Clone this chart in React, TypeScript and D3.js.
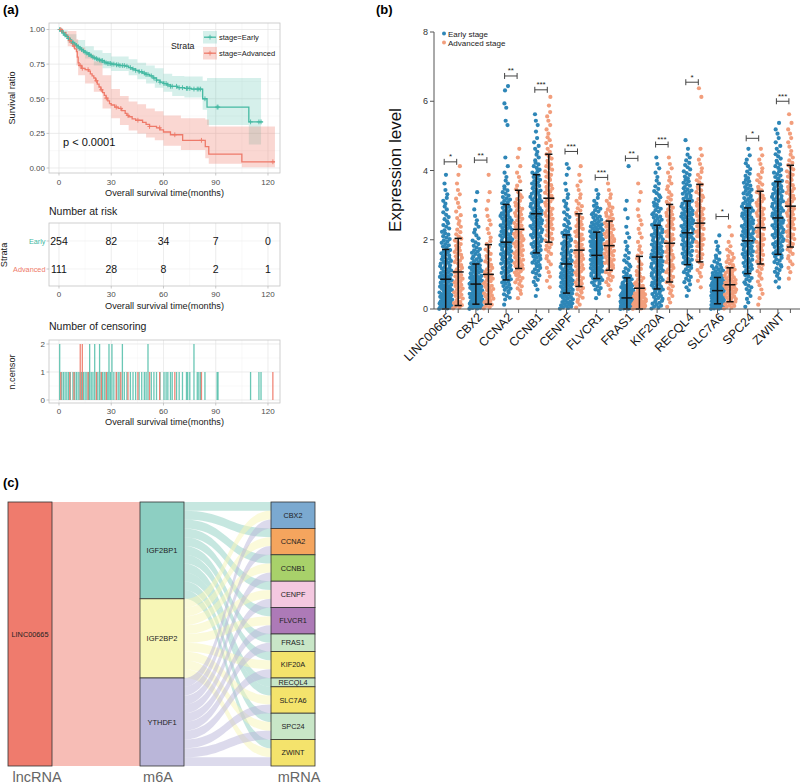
import React from 'react';
import * as d3 from 'd3';

const FONT = '"Liberation Sans", Arial, Helvetica, sans-serif';
const TEAL = '#45B9A3';
const SALMON = '#EE7A6A';

// ---------- (a) Kaplan-Meier data ----------
const earlySteps: [number, number][] = [
  [0, 1], [1, 0.99], [2, 0.975], [3, 0.96], [4, 0.95], [5, 0.935], [6, 0.925], [7, 0.915], [8, 0.905], [9, 0.895],
  [10, 0.885], [11, 0.875], [12, 0.865], [13, 0.855], [14, 0.845], [15, 0.835], [16, 0.83], [17, 0.82], [18, 0.81],
  [19, 0.8], [20, 0.795], [21, 0.79], [22, 0.785], [23, 0.78], [24, 0.775], [26, 0.765], [27, 0.76], [28, 0.755],
  [30, 0.75], [33, 0.745], [35, 0.74], [38, 0.735], [40, 0.725], [42, 0.715], [44, 0.705], [46, 0.695], [48, 0.685],
  [50, 0.675], [52, 0.665], [54, 0.65], [56, 0.635], [58, 0.62], [60, 0.61], [62, 0.6], [64, 0.59], [68, 0.58],
  [72, 0.575], [76, 0.57], [82.5, 0.5], [85, 0.44], [109, 0.333],
];
const earlyEnd = 117;
const advSteps: [number, number][] = [
  [0, 1], [2, 0.98], [4, 0.96], [5, 0.94], [6, 0.92], [7, 0.9], [8, 0.88], [9, 0.86], [10, 0.84], [10.5, 0.8],
  [11, 0.76], [11.5, 0.74], [13, 0.72], [15, 0.71], [17, 0.7], [18, 0.68], [19, 0.665], [20, 0.65], [21, 0.63],
  [22, 0.605], [23, 0.585], [24, 0.565], [25, 0.545], [26, 0.525], [27, 0.505], [28, 0.485], [29, 0.465], [30, 0.455],
  [32, 0.44], [34, 0.43], [36, 0.415], [38, 0.395], [39, 0.38], [40, 0.37], [42, 0.355], [44, 0.345], [48, 0.33],
  [50, 0.315], [52, 0.3], [56, 0.29], [58, 0.275], [60, 0.26], [64, 0.24], [71, 0.2], [84, 0.155], [86, 0.1], [105, 0.045],
];
const advEnd = 124;
const earlyCI: [number, number, number][] = [
  [0, 1, 1], [2, 0.955, 0.995], [5, 0.905, 0.965], [10, 0.845, 0.925], [15, 0.79, 0.88], [20, 0.74, 0.85],
  [25, 0.72, 0.83], [30, 0.7, 0.805], [40, 0.67, 0.785], [45, 0.64, 0.76], [50, 0.61, 0.74], [55, 0.58, 0.72],
  [60, 0.55, 0.68], [65, 0.52, 0.665], [72, 0.51, 0.66], [82.5, 0.42, 0.63], [85, 0.31, 0.65], [109, 0.17, 0.65],
];
const earlyCIEnd = 116;
const advCI: [number, number, number][] = [
  [0, 1, 1], [5, 0.88, 0.99], [10, 0.74, 0.93], [11, 0.67, 0.87], [15, 0.61, 0.82], [20, 0.55, 0.77],
  [25, 0.43, 0.67], [30, 0.36, 0.57], [35, 0.31, 0.52], [40, 0.27, 0.48], [45, 0.25, 0.46], [50, 0.22, 0.43],
  [55, 0.2, 0.41], [60, 0.16, 0.38], [70, 0.13, 0.36], [84, 0.07, 0.35], [86, 0.03, 0.3], [105, 0.005, 0.3],
];
const advCIEnd = 124;

const riskTimes = [0, 30, 60, 90, 120];
const riskEarly = [254, 82, 34, 7, 0];
const riskAdv = [111, 28, 8, 2, 1];
const xTicksA = [0, 30, 60, 90, 120];
const yTicksA = [0, 0.25, 0.5, 0.75, 1];
const yTickLabelsA = ['0.00', '0.25', '0.50', '0.75', '1.00'];

const censorEarly: [number, number][] = [
  [0.4, 2], [1.5, 1], [2.5, 1], [3.5, 1], [4.5, 1], [5.5, 1], [6.5, 1], [8, 1], [9, 1], [10, 1], [11, 1], [12, 1],
  [13, 1], [14, 1], [15, 1], [16, 1], [17, 1], [17.6, 2], [18.5, 1], [19.5, 1], [20.5, 2], [21.5, 1], [22.3, 1],
  [23.3, 2], [24.2, 1], [25, 1], [26, 1], [27, 1], [28, 1], [28.7, 2], [29.5, 1], [30.4, 2], [31.5, 1], [33, 1],
  [34, 1], [35, 1], [36.4, 2], [37.5, 1], [39, 1], [41, 1], [42.5, 1], [44, 1], [46, 1], [47.5, 1], [49, 1], [50, 1],
  [51.1, 2], [53, 1], [54.5, 1], [56, 1], [58, 1], [60.3, 1], [61.5, 1], [62.5, 1], [64, 1], [65, 1], [67.5, 1],
  [69, 1], [70.9, 1], [73.2, 1], [73.9, 1], [75.1, 1], [77.5, 2], [79.4, 1], [80.3, 1], [81.3, 1], [83.8, 1],
  [90.8, 1], [91.3, 1], [110, 1], [114.8, 1], [116, 1],
];
const censorAdv: [number, number][] = [
  [1, 1], [6.2, 1], [8.6, 1], [12.2, 2], [13.4, 2], [16.7, 1], [21.5, 1], [24.3, 1], [27.2, 1], [32.9, 1], [35.5, 1],
  [39.6, 1], [45.3, 1], [52, 1], [57.8, 1], [66.5, 1], [81.8, 1], [122.8, 1],
];

// ---------- (b) expression data ----------
const genes = ['LINC00665', 'CBX2', 'CCNA2', 'CCNB1', 'CENPF', 'FLVCR1', 'FRAS1', 'KIF20A', 'RECQL4', 'SLC7A6', 'SPC24', 'ZWINT'];
const earlyMean = [0.86, 0.72, 1.93, 2.75, 1.3, 1.55, 0.32, 1.5, 2.2, 0.53, 1.97, 2.63];
const earlySD = [0.86, 0.58, 1.09, 1.13, 0.84, 0.67, 0.58, 0.92, 0.92, 0.38, 0.95, 1.05];
const advMean = [1.07, 1.0, 2.3, 3.2, 1.7, 1.83, 0.6, 1.9, 2.48, 0.7, 2.35, 2.97];
const advSD = [0.97, 0.86, 1.13, 1.27, 1.05, 0.71, 0.92, 1.12, 1.12, 0.49, 1.05, 1.18];
const bracketLevel = [4.25, 4.3, 6.73, 6.33, 4.55, 3.8, 4.35, 4.75, 6.55, 2.67, 4.93, 6.0];
const stars = ['*', '**', '**', '***', '***', '***', '**', '***', '*', '*', '*', '***'];
// counts of samples per 0.25-wide expression bin, starting at 0
const earlyCounts: number[][] = [
  [21, 16, 13, 12, 10, 10, 8, 7, 6, 5, 4, 3, 3, 2, 1, 1],
  [22, 19, 17, 14, 12, 9, 7, 5, 3, 3, 2, 1, 1, 1],
  [1, 5, 7, 8, 9, 10, 10, 11, 11, 10, 10, 8, 7, 5, 3, 2, 1, 1, 0, 0, 0, 2, 0, 2, 0, 2],
  [0, 1, 2, 4, 6, 7, 8, 9, 10, 11, 11, 10, 10, 8, 7, 6, 5, 3, 3, 2, 1, 2, 1],
  [13, 12, 12, 12, 11, 10, 9, 8, 7, 5, 4, 3, 3, 2, 1, 1, 2],
  [0, 2, 6, 10, 13, 15, 16, 16, 14, 12, 8, 6, 3, 2],
  [40, 25, 14, 8, 5, 4, 3, 2, 2, 1, 1, 1, 1, 0, 0, 0, 1],
  [9, 9, 10, 10, 11, 11, 11, 10, 10, 9, 8, 6, 5, 4, 3, 2, 2, 1],
  [0, 1, 3, 5, 6, 8, 9, 10, 11, 11, 11, 10, 9, 8, 6, 5, 4, 3, 1, 1],
  [30, 28, 22, 16, 10, 5, 3, 2, 1],
  [2, 3, 5, 6, 7, 8, 10, 10, 11, 11, 10, 10, 8, 7, 6, 4, 3, 2, 1],
  [0, 0, 1, 3, 5, 6, 8, 9, 10, 10, 10, 10, 10, 9, 8, 6, 5, 4, 3, 2, 2, 1],
];
const advCounts: number[][] = [
  [8, 7, 7, 7, 6, 6, 6, 5, 4, 3, 3, 2, 2, 2, 1, 1, 1],
  [7, 8, 8, 7, 6, 5, 4, 3, 2, 2, 2, 1, 1, 1, 0, 1],
  [0, 2, 4, 6, 7, 8, 8, 8, 8, 7, 6, 6, 5, 3, 2, 2, 1, 1, 1],
  [0, 0, 1, 2, 2, 3, 4, 5, 5, 6, 6, 6, 6, 6, 5, 5, 5, 4, 3, 3, 2, 2, 2, 1, 1],
  [3, 5, 6, 6, 7, 7, 7, 6, 6, 6, 5, 4, 3, 2, 2, 1, 1],
  [0, 1, 2, 5, 6, 8, 9, 9, 8, 7, 6, 5, 3, 2, 1],
  [24, 14, 8, 6, 4, 3, 3, 2, 2, 2, 2, 1, 1, 1, 1],
  [2, 3, 4, 5, 6, 6, 6, 6, 6, 6, 6, 5, 4, 3, 3, 2, 2, 1],
  [0, 0, 1, 2, 3, 4, 5, 6, 6, 6, 6, 6, 5, 5, 4, 3, 2, 2, 1, 0, 0, 0, 0, 0, 1, 1],
  [10, 10, 11, 10, 8, 6, 4, 2, 1, 1],
  [1, 2, 2, 3, 4, 5, 6, 6, 6, 6, 6, 6, 6, 5, 4, 3, 2, 2, 1],
  [0, 0, 0, 1, 2, 3, 4, 5, 6, 6, 6, 6, 6, 6, 5, 5, 4, 3, 2, 2, 2, 1, 1],
];
const yTicksB = [0, 2, 4, 6, 8];
const BLUE = '#2E86B7';
const ORANGE = '#F29E7C';

// ---------- (c) alluvial data ----------
const lncNodes = ['LINC00665'];
const m6aNodes = ['IGF2BP1', 'IGF2BP2', 'YTHDF1'];
const mrnaNodes = ['CBX2', 'CCNA2', 'CCNB1', 'CENPF', 'FLVCR1', 'FRAS1', 'KIF20A', 'RECQL4', 'SLC7A6', 'SPC24', 'ZWINT'];
const igf2bp1Targets = ['CBX2', 'CCNA2', 'CCNB1', 'CENPF', 'FLVCR1', 'FRAS1', 'KIF20A', 'RECQL4', 'SLC7A6', 'SPC24', 'ZWINT'];
const igf2bp2Targets = ['CBX2', 'CCNA2', 'CCNB1', 'CENPF', 'FLVCR1', 'KIF20A', 'SLC7A6', 'SPC24', 'ZWINT'];
const ythdf1Targets = ['CBX2', 'CCNA2', 'CCNB1', 'CENPF', 'FLVCR1', 'FRAS1', 'KIF20A', 'SLC7A6', 'SPC24', 'ZWINT'];
const lncColor = '#EF7B6D';
const m6aColors = ['#8DCFC2', '#F7F6B6', '#BAB6D9'];
const mrnaColors = ['#7BA9D0', '#F5A55E', '#A8D16A', '#F4C8E0', '#AD7AB7', '#C8E6C7', '#F4E36C', '#C8E6C7', '#F4E36C', '#C8E6C7', '#F4E36C'];
const axisNames = ['lncRNA', 'm6A', 'mRNA'];

function stepValue(steps: [number, number][], t: number) {
  const i = d3.bisector((d: [number, number]) => d[0]).right(steps, t) - 1;
  return steps[Math.max(0, i)][1];
}

function PanelA() {
  const xS = d3.scaleLinear().domain([-5.74, 126.9]).range([49, 280]);
  const yS = d3.scaleLinear().domain([-0.036, 1.047]).range([173, 23]);
  const minorX = [15, 45, 75, 105];
  const minorY = [0.125, 0.375, 0.625, 0.875];
  const line = d3.line<[number, number]>().x(d => xS(d[0])).y(d => yS(d[1])).curve(d3.curveStepAfter);
  const area = d3.area<[number, number, number]>().x(d => xS(d[0])).y0(d => yS(d[1])).y1(d => yS(d[2])).curve(d3.curveStepAfter);
  const eLine = [...earlySteps, [earlyEnd, earlySteps[earlySteps.length - 1][1]] as [number, number]];
  const aLine = [...advSteps, [advEnd, advSteps[advSteps.length - 1][1]] as [number, number]];
  const eCI = [...earlyCI, [earlyCIEnd, earlyCI[earlyCI.length - 1][1], earlyCI[earlyCI.length - 1][2]] as [number, number, number]];
  const aCI = [...advCI, [advCIEnd, advCI[advCI.length - 1][1], advCI[advCI.length - 1][2]] as [number, number, number]];

  const grid = (top: number, bottom: number, ys: number[], yMinor: number[], yScale: (v: number) => number) => (
    <g>
      {minorX.map(t => <line key={'mx' + t} x1={xS(t)} x2={xS(t)} y1={top} y2={bottom} stroke="#f2f2f2" strokeWidth={0.5} />)}
      {yMinor.map(v => <line key={'my' + v} x1={49} x2={280} y1={yScale(v)} y2={yScale(v)} stroke="#f2f2f2" strokeWidth={0.5} />)}
      {xTicksA.map(t => <line key={'gx' + t} x1={xS(t)} x2={xS(t)} y1={top} y2={bottom} stroke="#e4e4e4" strokeWidth={0.7} />)}
      {ys.map(v => <line key={'gy' + v} x1={49} x2={280} y1={yScale(v)} y2={yScale(v)} stroke="#e4e4e4" strokeWidth={0.7} />)}
    </g>
  );
  const xAxis = (bottom: number, labelY: number, titleY: number) => (
    <g>
      {xTicksA.map(t => (
        <g key={'xt' + t}>
          <line x1={xS(t)} x2={xS(t)} y1={bottom} y2={bottom + 2.5} stroke="#b3b3b3" strokeWidth={0.7} />
          <text x={xS(t)} y={labelY} textAnchor="middle" fontSize={8} fill="#4d4d4d">{t}</text>
        </g>
      ))}
      <text x={164.5} y={titleY} textAnchor="middle" fontSize={9.2} fill="#1a1a1a">Overall survival time(months)</text>
    </g>
  );
  const plus = (x: number, y: number, c: string, k: string) => (
    <g key={k} stroke={c} strokeWidth={0.9}>
      <line x1={x - 2.2} x2={x + 2.2} y1={y} y2={y} />
      <line x1={x} x2={x} y1={y - 2.4} y2={y + 2.4} />
    </g>
  );

  const yC = d3.scaleLinear().domain([-0.107, 2.143]).range([403, 340]);
  const riskRows = [{ name: 'Early', y: 241, vals: riskEarly, c: TEAL }, { name: 'Advanced', y: 269, vals: riskAdv, c: SALMON }];

  return (
    <g fontFamily={FONT}>
      <text x={3} y={14} fontSize={13} fontWeight="bold">(a)</text>
      <rect x={49} y={23} width={231} height={150} fill="white" />
      {grid(23, 173, yTicksA, minorY, yS)}
      <path d={area(eCI) || ''} fill={TEAL} fillOpacity={0.22} />
      <path d={area(aCI) || ''} fill={SALMON} fillOpacity={0.3} />
      <path d={line(eLine) || ''} fill="none" stroke={TEAL} strokeWidth={1.3} />
      <path d={line(aLine) || ''} fill="none" stroke={SALMON} strokeWidth={1.3} />
      {censorEarly.filter(c => c[0] <= earlyEnd).map((c, i) => plus(xS(c[0]), yS(stepValue(earlySteps, c[0])), TEAL, 'ce' + i))}
      {censorAdv.filter(c => c[0] <= advEnd).map((c, i) => plus(xS(c[0]), yS(stepValue(advSteps, c[0])), SALMON, 'ca' + i))}
      <rect x={49} y={23} width={231} height={150} fill="none" stroke="#c4c4c4" strokeWidth={0.8} />
      {yTicksA.map((v, i) => (
        <g key={'yt' + v}>
          <line x1={46.5} x2={49} y1={yS(v)} y2={yS(v)} stroke="#b3b3b3" strokeWidth={0.7} />
          <text x={45} y={yS(v) + 2.8} textAnchor="end" fontSize={8} fill="#4d4d4d">{yTickLabelsA[i]}</text>
        </g>
      ))}
      {xAxis(173, 185, 196)}
      <text transform="translate(15,98) rotate(-90)" textAnchor="middle" fontSize={9.2} fill="#1a1a1a">Survival ratio</text>
      <text x={63} y={146} fontSize={11} fill="#111">p &lt; 0.0001</text>
      <text x={171} y={49} fontSize={8.8} fill="#1a1a1a">Strata</text>
      {[{ c: TEAL, y: 31, o: 0.22, l: 'stage=Early' }, { c: SALMON, y: 47, o: 0.3, l: 'stage=Advanced' }].map(k => (
        <g key={k.l}>
          <rect x={203} y={k.y} width={14} height={12.5} fill={k.c} fillOpacity={k.o} />
          <line x1={204} x2={216} y1={k.y + 6.2} y2={k.y + 6.2} stroke={k.c} strokeWidth={1.3} />
          {plus(210, k.y + 6.2, k.c, 'lk' + k.l)}
          <text x={219} y={k.y + 9} fontSize={7.5} fill="#1a1a1a">{k.l}</text>
        </g>
      ))}

      <text x={49} y={215} fontSize={10.5} fill="#1a1a1a">Number at risk</text>
      <rect x={49} y={223} width={231} height={63} fill="white" />
      {minorX.map(t => <line key={'rmx' + t} x1={xS(t)} x2={xS(t)} y1={223} y2={286} stroke="#f2f2f2" strokeWidth={0.5} />)}
      {xTicksA.map(t => <line key={'rgx' + t} x1={xS(t)} x2={xS(t)} y1={223} y2={286} stroke="#e4e4e4" strokeWidth={0.7} />)}
      {riskRows.map(r => <line key={'rgy' + r.name} x1={49} x2={280} y1={r.y} y2={r.y} stroke="#ececec" strokeWidth={0.6} />)}
      <rect x={49} y={223} width={231} height={63} fill="none" stroke="#c4c4c4" strokeWidth={0.8} />
      {riskRows.map(r => (
        <g key={'rr' + r.name}>
          <line x1={46.5} x2={49} y1={r.y} y2={r.y} stroke="#b3b3b3" strokeWidth={0.7} />
          <text x={45.5} y={r.y + 2.6} textAnchor="end" fontSize={7.3} fill={r.c}>{r.name}</text>
          {r.vals.map((v, i) => (
            <text key={i} x={xS(riskTimes[i])} y={r.y + 3.8} textAnchor="middle" fontSize={10.5} fill="#111">{v}</text>
          ))}
        </g>
      ))}
      <text transform="translate(7,255) rotate(-90)" textAnchor="middle" fontSize={9.2} fill="#1a1a1a">Strata</text>
      {xAxis(286, 297, 309)}

      <text x={49} y={330} fontSize={10.5} fill="#1a1a1a">Number of censoring</text>
      <rect x={49} y={340} width={231} height={63} fill="white" />
      {minorX.map(t => <line key={'cmx' + t} x1={xS(t)} x2={xS(t)} y1={340} y2={403} stroke="#f2f2f2" strokeWidth={0.5} />)}
      {[0.5, 1.5].map(v => <line key={'cmy' + v} x1={49} x2={280} y1={yC(v)} y2={yC(v)} stroke="#f2f2f2" strokeWidth={0.5} />)}
      {xTicksA.map(t => <line key={'cgx' + t} x1={xS(t)} x2={xS(t)} y1={340} y2={403} stroke="#e4e4e4" strokeWidth={0.7} />)}
      {[0, 1, 2].map(v => <line key={'cgy' + v} x1={49} x2={280} y1={yC(v)} y2={yC(v)} stroke="#e4e4e4" strokeWidth={0.7} />)}
      {censorEarly.map((c, i) => (
        <rect key={'be' + i} x={xS(c[0]) - 0.65} y={yC(c[1])} width={1.3} height={yC(0) - yC(c[1])} fill={TEAL} fillOpacity={0.8} />
      ))}
      {censorAdv.map((c, i) => (
        <rect key={'ba' + i} x={xS(c[0]) - 0.65} y={yC(c[1])} width={1.3} height={yC(0) - yC(c[1])} fill={SALMON} fillOpacity={0.9} />
      ))}
      <rect x={49} y={340} width={231} height={63} fill="none" stroke="#c4c4c4" strokeWidth={0.8} />
      {[0, 1, 2].map(v => (
        <g key={'cyt' + v}>
          <line x1={46.5} x2={49} y1={yC(v)} y2={yC(v)} stroke="#b3b3b3" strokeWidth={0.7} />
          <text x={45} y={yC(v) + 2.8} textAnchor="end" fontSize={8} fill="#4d4d4d">{v}</text>
        </g>
      ))}
      <text transform="translate(15,372) rotate(-90)" textAnchor="middle" fontSize={9.2} fill="#1a1a1a">n.censor</text>
      {xAxis(403, 414, 425)}
    </g>
  );
}

function layoutDots(counts: number[], cx: number, yScale: d3.ScaleLinear<number, number>) {
  const pts: { x: number; y: number }[] = [];
  counts.forEach((n, i) => {
    const w = Math.min(13, 3 + n * 0.9);
    for (let k = 0; k < n; k++) {
      const v = (i + (k + 0.5) / n) * 0.25;
      const f = ((k * 0.618034 + i * 0.371) % 1) - 0.5;
      pts.push({ x: cx + f * w, y: yScale(v) });
    }
  });
  return pts;
}

function PanelB() {
  const band = d3.scaleBand<string>().domain(genes).range([436.85, 799.25]);
  const stage = d3.scalePoint<string>().domain(['Early', 'Advanced']).range([-6.25, 6.25]);
  const yB = d3.scaleLinear().domain([0, 8]).range([309, 32]);
  const center = (g: string) => (band(g) || 0) + band.bandwidth() / 2;
  const xE = (g: string) => center(g) + (stage('Early') || 0);
  const xA = (g: string) => center(g) + (stage('Advanced') || 0);
  const errBar = (x: number, m: number, s: number, k: string) => {
    const lo = Math.max(0, m - s);
    const hi = m + s;
    return (
      <g key={k} stroke="#111" strokeWidth={1.5}>
        <line x1={x} x2={x} y1={yB(lo)} y2={yB(hi)} />
        <line x1={x - 3.6} x2={x + 3.6} y1={yB(lo)} y2={yB(lo)} />
        <line x1={x - 3.6} x2={x + 3.6} y1={yB(hi)} y2={yB(hi)} />
        <line x1={x - 5.5} x2={x + 5.5} y1={yB(m)} y2={yB(m)} />
      </g>
    );
  };
  return (
    <g fontFamily={FONT}>
      <text x={376} y={14} fontSize={13} fontWeight="bold">(b)</text>
      {genes.map((g, gi) => (
        <g key={'dots' + g}>
          {layoutDots(earlyCounts[gi], xE(g), yB).map((p, i) => <circle key={'e' + i} cx={p.x} cy={p.y} r={2.1} fill={BLUE} />)}
          {layoutDots(advCounts[gi], xA(g), yB).map((p, i) => <circle key={'a' + i} cx={p.x} cy={p.y} r={2.1} fill={ORANGE} />)}
        </g>
      ))}
      {genes.map((g, gi) => errBar(xE(g), earlyMean[gi], earlySD[gi], 'ebe' + g))}
      {genes.map((g, gi) => errBar(xA(g), advMean[gi], advSD[gi], 'eba' + g))}
      {genes.map((g, gi) => {
        const y = yB(bracketLevel[gi]);
        const x1 = xE(g) - 1.5;
        const x2 = xA(g) - 1.5;
        return (
          <g key={'br' + g}>
            <g stroke="#444" strokeWidth={1}>
              <line x1={x1} x2={x2} y1={y} y2={y} />
              <line x1={x1} x2={x1} y1={y - 3} y2={y + 3} />
              <line x1={x2} x2={x2} y1={y - 3} y2={y + 3} />
            </g>
            <text x={(x1 + x2) / 2} y={y - 2.5} textAnchor="middle" fontSize={8} fill="#222">{stars[gi]}</text>
          </g>
        );
      })}
      <line x1={434} x2={434} y1={yB(8)} y2={yB(0)} stroke="#555" strokeWidth={1} />
      <line x1={434} x2={800} y1={yB(0)} y2={yB(0)} stroke="#555" strokeWidth={1} />
      {yTicksB.map(v => (
        <g key={'byt' + v}>
          <line x1={430} x2={434} y1={yB(v)} y2={yB(v)} stroke="#555" strokeWidth={1} />
          <text x={428} y={yB(v) + 3.2} textAnchor="end" fontSize={9} fill="#333">{v}</text>
        </g>
      ))}
      {genes.map(g => (
        <g key={'bxt' + g}>
          <line x1={xE(g)} x2={xE(g)} y1={309} y2={313} stroke="#555" strokeWidth={1} />
          <line x1={xA(g)} x2={xA(g)} y1={309} y2={313} stroke="#555" strokeWidth={1} />
          <text transform={`translate(${center(g) + 1},${318}) rotate(-45)`} textAnchor="end" fontSize={12.3} fill="#111">{g}</text>
        </g>
      ))}
      <text transform="translate(401,170) rotate(-90)" textAnchor="middle" fontSize={17} fill="#111">Expression level</text>
      <circle cx={444} cy={33.5} r={2} fill={BLUE} />
      <text x={448} y={36.5} fontSize={8} fill="#222">Early stage</text>
      <circle cx={444} cy={42.5} r={2} fill={ORANGE} />
      <text x={448} y={45.5} fontSize={8} fill="#222">Advanced stage</text>
    </g>
  );
}

function PanelC() {
  const links: [string, string][] = [
    ...igf2bp1Targets.map(t => ['IGF2BP1', t] as [string, string]),
    ...igf2bp2Targets.map(t => ['IGF2BP2', t] as [string, string]),
    ...ythdf1Targets.map(t => ['YTHDF1', t] as [string, string]),
  ];
  const total = links.length;
  const yS = d3.scaleLinear().domain([0, total]).range([502, 766]);
  const colX = [8, 140, 271];
  const nodeW = 44;
  const m6aStart: Record<string, number> = {};
  let acc = 0;
  m6aNodes.forEach(n => { m6aStart[n] = acc; acc += links.filter(l => l[0] === n).length; });
  const mrnaStart: Record<string, number> = {};
  acc = 0;
  mrnaNodes.forEach(n => { mrnaStart[n] = acc; acc += links.filter(l => l[1] === n).length; });
  const flows = links.map(([a, b]) => {
    const srcIdx = links.filter(l => l[0] === a && mrnaNodes.indexOf(l[1]) < mrnaNodes.indexOf(b)).length;
    const tgtIdx = links.filter(l => l[1] === b && m6aNodes.indexOf(l[0]) < m6aNodes.indexOf(a)).length;
    return { a, b, s: m6aStart[a] + srcIdx, t: mrnaStart[b] + tgtIdx };
  });
  const x0 = colX[1] + nodeW;
  const x1 = colX[2];
  const xm = (x0 + x1) / 2;
  const flowPath = (s: number, t: number) => {
    const ys0 = yS(s), ys1 = yS(s + 1), yt0 = yS(t), yt1 = yS(t + 1);
    return `M${x0},${ys0} C${xm},${ys0} ${xm},${yt0} ${x1},${yt0} L${x1},${yt1} C${xm},${yt1} ${xm},${ys1} ${x0},${ys1} Z`;
  };
  const axisX = [37, 158, 299];
  return (
    <g fontFamily={FONT}>
      <text x={3} y={487} fontSize={13} fontWeight="bold">(c)</text>
      <rect x={colX[0] + nodeW} y={yS(0)} width={colX[1] - colX[0] - nodeW} height={yS(total) - yS(0)} fill={lncColor} fillOpacity={0.5} />
      {flows.map((f, i) => (
        <path key={'fl' + i} d={flowPath(f.s, f.t)} fill={m6aColors[m6aNodes.indexOf(f.a)]} fillOpacity={0.5} />
      ))}
      {lncNodes.map(n => (
        <g key={n}>
          <rect x={colX[0]} y={yS(0)} width={nodeW} height={yS(total) - yS(0)} fill={lncColor} stroke="#333" strokeWidth={0.8} />
          <text x={colX[0] + nodeW / 2} y={(yS(0) + yS(total)) / 2 + 2.5} textAnchor="middle" fontSize={7.3} fill="#222">{n}</text>
        </g>
      ))}
      {m6aNodes.map((n, i) => {
        const cnt = links.filter(l => l[0] === n).length;
        const y0 = yS(m6aStart[n]), y1 = yS(m6aStart[n] + cnt);
        return (
          <g key={n}>
            <rect x={colX[1]} y={y0} width={nodeW} height={y1 - y0} fill={m6aColors[i]} stroke="#333" strokeWidth={0.8} />
            <text x={colX[1] + nodeW / 2} y={(y0 + y1) / 2 + 2.5} textAnchor="middle" fontSize={7.5} fill="#222">{n}</text>
          </g>
        );
      })}
      {mrnaNodes.map((n, i) => {
        const cnt = links.filter(l => l[1] === n).length;
        const y0 = yS(mrnaStart[n]), y1 = yS(mrnaStart[n] + cnt);
        return (
          <g key={n}>
            <rect x={colX[2]} y={y0} width={nodeW} height={y1 - y0} fill={mrnaColors[i]} stroke="#333" strokeWidth={0.8} />
            <text x={colX[2] + nodeW / 2} y={(y0 + y1) / 2 + 2.5} textAnchor="middle" fontSize={7.3} fill="#222">{n}</text>
          </g>
        );
      })}
      {axisNames.map((a, i) => (
        <text key={a} x={axisX[i]} y={782} textAnchor="middle" fontSize={14.5} fill="#666">{a}</text>
      ))}
    </g>
  );
}

export default function App() {
  return (
    <svg width={800} height={784} viewBox="0 0 800 784" style={{ position: 'absolute', left: 0, top: 0, background: 'white' }}>
      <rect x={0} y={0} width={800} height={784} fill="white" />
      <PanelA />
      <PanelB />
      <PanelC />
    </svg>
  );
}
